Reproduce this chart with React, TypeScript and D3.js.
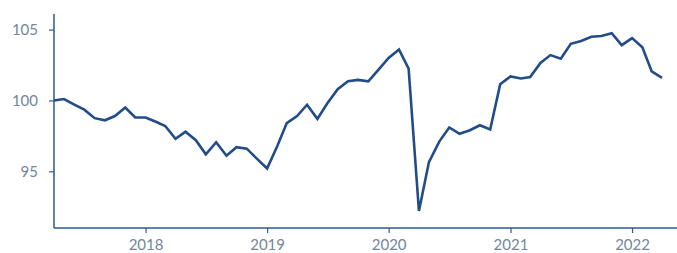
import React, { useEffect, useRef } from "react";
import * as d3 from "d3";

// monthly index, Apr 2017 .. Apr 2022
const startMonth = new Date(2017, 3, 1);
const values2017 = [100.0, 100.1, 99.7, 99.35, 98.75, 98.6, 98.9, 99.5, 98.8];
const values2018 = [98.8, 98.5, 98.2, 97.3, 97.8, 97.2, 96.2, 97.05, 96.1, 96.7, 96.6, 95.9];
const values2019 = [95.2, 96.8, 98.4, 98.9, 99.7, 98.7, 99.8, 100.8, 101.35, 101.45, 101.35, 102.15];
const values2020 = [103.0, 103.6, 102.25, 92.2, 95.65, 97.1, 98.1, 97.65, 97.9, 98.25, 97.95, 101.15];
const values2021 = [101.7, 101.55, 101.65, 102.65, 103.2, 102.95, 104.0, 104.2, 104.5, 104.55, 104.75, 103.9];
const values2022 = [104.4, 103.75, 102.05, 101.6];

const yTicks = [95, 100, 105];
const xTickYears = [2018, 2019, 2020, 2021, 2022];

const W = 677;
const H = 253;

const App = () => {
  const svgRef = useRef<SVGSVGElement>(null);

  useEffect(() => {
    const all = [...values2017, ...values2018, ...values2019, ...values2020, ...values2021, ...values2022];
    const data = all.map((v, i) => ({
      date: d3.timeMonth.offset(startMonth, i),
      value: v,
    }));

    const svg = d3.select(svgRef.current);
    svg.selectAll("*").remove();

    const x = d3
      .scaleTime()
      .domain([startMonth, new Date(2022, 4, 16)])
      .range([54, W]);
    const y = d3.scaleLinear().domain([91, 106.1]).range([228, 14]);

    const axisColor = "#2d5b93";
    const textColor = "#73869a";

    // y axis
    const yAxis = svg
      .append("g")
      .attr("transform", "translate(54,0)")
      .call(d3.axisLeft(y).tickValues(yTicks).tickSize(5).tickPadding(11).tickFormat(d3.format("d")));
    yAxis.select(".domain").attr("d", `M0,${y(106.1)}V${y(91)}`);

    // x axis
    const xAxis = svg
      .append("g")
      .attr("transform", "translate(0,228)")
      .call(
        d3
          .axisBottom(x)
          .tickValues(xTickYears.map((yr) => new Date(yr, 0, 1)))
          .tickSize(5)
          .tickPadding(6)
          .tickFormat(d3.timeFormat("%Y") as any)
      );
    xAxis.select(".domain").attr("d", `M54,0H${W}`);

    [yAxis, xAxis].forEach((g) => {
      g.selectAll(".domain").attr("stroke", axisColor).attr("stroke-width", 1.5);
      g.selectAll(".tick line").attr("stroke", axisColor).attr("stroke-width", 1.2);
      g.selectAll(".tick text")
        .attr("fill", textColor)
        .style("font-family", "Lato, 'Open Sans', sans-serif")
        .style("font-size", "15px");
    });

    const line = d3
      .line<{ date: Date; value: number }>()
      .x((d) => x(d.date))
      .y((d) => y(d.value));

    svg
      .append("path")
      .datum(data)
      .attr("d", line)
      .attr("fill", "none")
      .attr("stroke", "#224c88")
      .attr("stroke-width", 2.6)
      .attr("stroke-linejoin", "miter");
  }, []);

  return (
    <svg
      ref={svgRef}
      width={W}
      height={H}
      style={{ position: "absolute", left: 0, top: 0, background: "#fff" }}
    ></svg>
  );
};

export default App;
